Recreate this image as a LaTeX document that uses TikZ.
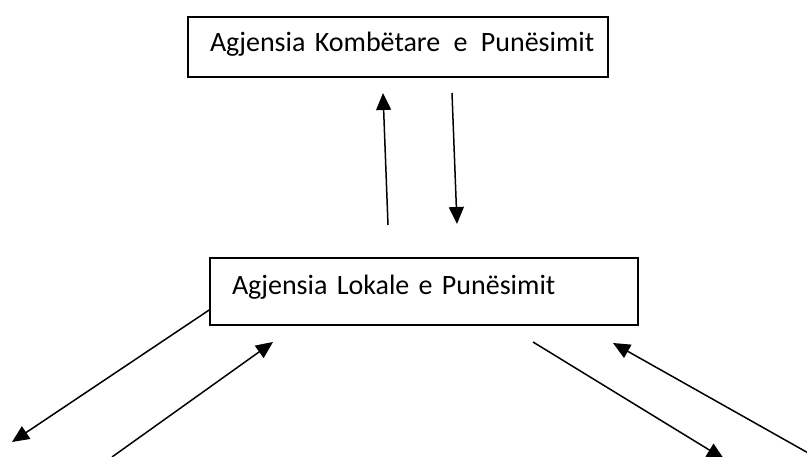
\documentclass[tikz,border=0pt]{standalone}
\usepackage{fontspec}
\setmainfont{Carlito}
\usepackage{tikz}
\usetikzlibrary{arrows.meta}

\begin{document}
\begin{tikzpicture}[x=1pt, y=-1pt,
    box/.style={draw, line width=1.6pt, align=left, inner xsep=22pt,
      text height=21pt, font=\fontsize{28}{32}\selectfont},
    arr/.style={line width=1.5pt, -{Triangle[length=17pt, width=15pt]}}]
            \useasboundingbox (0,0) rectangle (807,457);

            % Boxes
            \node[box, text width=376pt, text depth=11pt, minimum height=60pt] (kombetare) at (398,47) {\mbox{Agjensia Kombëtare\hspace{4pt} e\hspace{4pt} Punësimit}};
            \node[box, text width=384pt, text depth=14pt, minimum height=67pt] (lokale) at (424,291.5) {Agjensia Lokale e Punësimit};

            % Ends of the arrows
            \coordinate (up1) at (388,225);
            \coordinate (up2) at (383,93);
            \coordinate (dn1) at (452,93);
            \coordinate (dn2) at (457,224);
            \coordinate (ll1) at (12,442);
            \coordinate (lr1) at (112,457);
            \coordinate (lr2) at (273,342);
            \coordinate (rl1) at (533,342);
            \coordinate (rl2) at (724,459);
            \coordinate (rr1) at (810,454);
            \coordinate (rr2) at (613,343);

            % Arrows
            \draw[arr] (up1) -- (up2);
            \draw[arr] (dn1) -- (dn2);
            \draw[arr] (lokale.south west |- 0,310) -- (ll1);
            \draw[arr] (lr1) -- (lr2);
            \draw[arr] (rl1) -- (rl2);
            \draw[arr] (rr1) -- (rr2);

        \end{tikzpicture}
\end{document}
